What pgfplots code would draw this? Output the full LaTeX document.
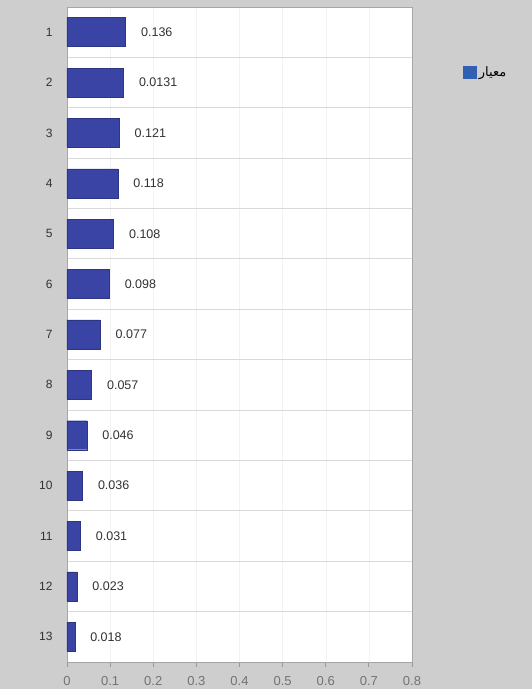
\documentclass[border=0pt]{standalone}
\usepackage{pgfplots}
\pgfplotsset{compat=1.18}
\usepackage{pgfplotstable}
\usepackage{fontspec}
\setmainfont{Liberation Sans}
\newfontfamily\arabicfont[Script=Arabic]{DejaVu Sans}
\TeXXeTstate=1
\definecolor{barblue}{RGB}{58,68,165}
\definecolor{bggray}{RGB}{206,206,206}
\definecolor{labgray}{RGB}{50,50,50}
\pgfplotstableread{
cat val lab
1 0.136 0.136
2 0.131 0.0131
3 0.121 0.121
4 0.118 0.118
5 0.108 0.108
6 0.098 0.098
7 0.077 0.077
8 0.057 0.057
9 0.046 0.046
10 0.036 0.036
11 0.031 0.031
12 0.023 0.023
13 0.018 0.018
}\datatable
\begin{document}
\begin{tikzpicture}
\fill[bggray] (-67pt,-27pt) rectangle (465pt,662pt);
\begin{axis}[
  at={(0,0)}, anchor=south west,
  scale only axis, width=345pt, height=655pt,
  xbar, bar width=29pt,
  xmin=0, xmax=0.8, ymin=0.5, ymax=13.5, y dir=reverse,
  xtick={0,0.1,0.2,0.3,0.4,0.5,0.6,0.7,0.8},
  xticklabels={0,0.1,0.2,0.3,0.4,0.5,0.6,0.7,0.8},
  ytick={1,2,3,4,5,6,7,8,9,10,11,12,13},
  minor ytick={1.5,2.5,3.5,4.5,5.5,6.5,7.5,8.5,9.5,10.5,11.5,12.5},
  yminorgrids=true, xmajorgrids=true,
  minor grid style={draw=black!15, line width=0.8pt},
  major grid style={draw=black!5},
  axis background/.style={fill=white},
  axis line style={draw=black!35, line width=0.8pt},
  xtick pos=bottom, xtick align=outside, major tick length=5pt,
  x tick style={draw=black!40, line width=0.8pt},
  y tick style={draw=none}, minor tick length=0pt,
  /pgf/number format/assume math mode=true,
  xticklabel style={font=\fontsize{13}{15}\selectfont, text=black!55, yshift=-6pt},
  yticklabel style={font=\fontsize{12}{14}\selectfont, text=labgray, anchor=east, xshift=-6pt},
  point meta=explicit symbolic,
  nodes near coords={\pgfplotspointmeta},
  nodes near coords style={font=\fontsize{12.5}{14}\selectfont, text=labgray, anchor=west, xshift=12pt},
  legend style={at={(1.14,0.9)}, anchor=west, draw=none, fill=none, font=\fontsize{13}{15}\selectfont},
  legend image code/.code={\fill[barblue!85!cyan] (0pt,-6pt) rectangle (13pt,6pt);},
]
\addplot[fill=barblue, draw=barblue!80!black] table[x=val, y=cat, meta=lab] {\datatable};
\addlegendentry{\arabicfont\beginR معیار\endR}
\end{axis}
\end{tikzpicture}
\end{document}
